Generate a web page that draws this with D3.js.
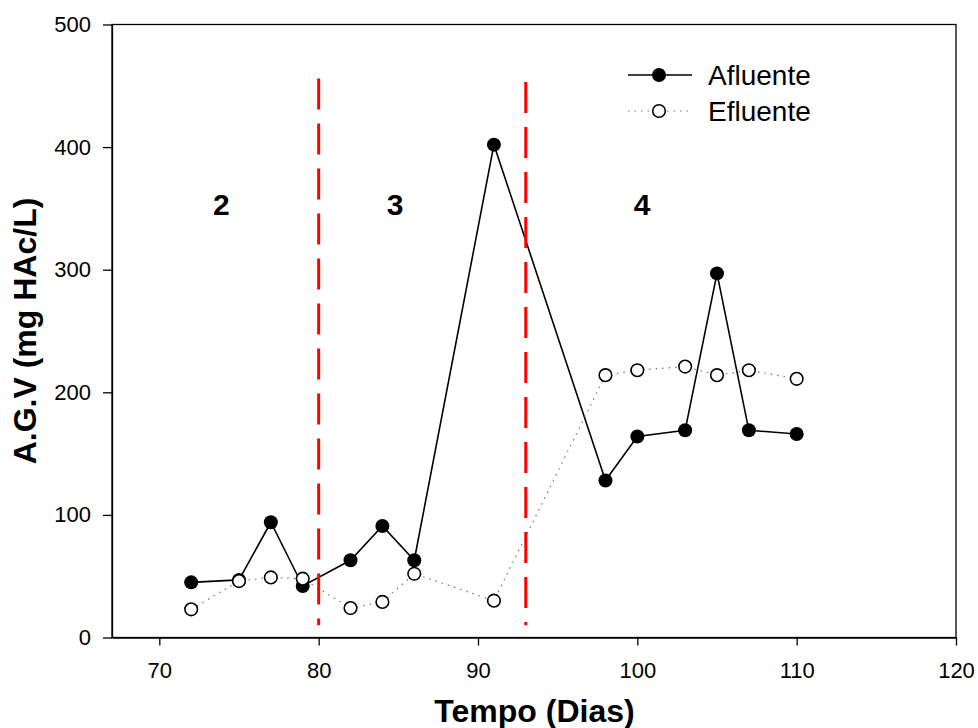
<!DOCTYPE html>
<html>
<head>
<meta charset="utf-8">
<script src="https://cdn.jsdelivr.net/npm/d3@7"></script>
<style>
  body { margin: 0; background: #fff; }
  svg text { font-family: "Liberation Sans", Arial, sans-serif; }
</style>
</head>
<body>
<div id="chart"></div>
<script>
// Dias de operação e ácidos graxos voláteis (mg HAc/L)
const dias = [72, 75, 77, 79, 82, 84, 86, 91, 98, 100, 103, 105, 107, 110];
const afluente = [45, 47, 94, 42, 63, 91, 63, 402, 128, 164, 169, 297, 169, 166];
const efluente = [23, 46, 49, 48, 24, 29, 52, 30, 214, 218, 221, 214, 218, 211];

// mudanças de fase (linhas tracejadas vermelhas)
const fases = [
    { dia: 80, de: 10, ate: 456 },
    { dia: 93, de: 10, ate: 453 }
];
const rotulosFase = [
    { texto: "2", dia: 73.9, valor: 345 },
    { texto: "3", dia: 84.8, valor: 345 },
    { texto: "4", dia: 100.3, valor: 345 }
];

const xTicks = [70, 80, 90, 100, 110, 120];
const yTicks = [0, 100, 200, 300, 400, 500];

const width = 978, height = 728;
const margin = { left: 112, right: 22, top: 24.5, bottom: 90.5 };

const svg = d3.select("#chart")
    .append("svg")
    .attr("width", width)
    .attr("height", height);

const x = d3.scaleLinear()
    .domain([67.03, 120])
    .range([margin.left, width - margin.right]);

const y = d3.scaleLinear()
    .domain([0, 500])
    .range([height - margin.bottom, margin.top]);

// moldura
svg.append("rect")
    .attr("x", x(67.03))
    .attr("y", y(500))
    .attr("width", x(120) - x(67.03))
    .attr("height", y(0) - y(500))
    .attr("fill", "none")
    .attr("stroke", "#000")
    .attr("stroke-width", 1.3);

const xAxis = svg.append("g")
    .attr("transform", `translate(0, ${y(0)})`)
    .call(d3.axisBottom(x).tickValues(xTicks).tickSize(8).tickSizeOuter(0).tickPadding(17));

const yAxis = svg.append("g")
    .attr("transform", `translate(${x(67.03)}, 0)`)
    .call(d3.axisLeft(y).tickValues(yTicks).tickSize(9).tickSizeOuter(0).tickPadding(12));

[xAxis, yAxis].forEach(ax => {
    ax.select(".domain").attr("stroke", "#000").attr("stroke-width", 1.3);
    ax.selectAll(".tick line").attr("stroke", "#000").attr("stroke-width", 1.3);
    ax.selectAll(".tick text")
        .attr("fill", "#000")
        .style("font-size", "22px")
        .style("font-family", "Liberation Sans, Arial, sans-serif");
});

// títulos dos eixos
svg.append("text")
    .attr("x", 534.5)
    .attr("y", 722)
    .attr("text-anchor", "middle")
    .style("font-size", "32px")
    .style("font-weight", "bold")
    .text("Tempo (Dias)");

svg.append("text")
    .attr("transform", `translate(36, ${(y(0) + y(500)) / 2}) rotate(-90)`)
    .attr("text-anchor", "middle")
    .style("font-size", "32px")
    .style("font-weight", "bold")
    .text("A.G.V (mg HAc/L)");

const dadosAf = dias.map((d, i) => [d, afluente[i]]);
const dadosEf = dias.map((d, i) => [d, efluente[i]]);

const linha = d3.line()
    .x(d => x(d[0]))
    .y(d => y(d[1]));

// Afluente: linha sólida, círculos cheios
svg.append("path")
    .datum(dadosAf)
    .attr("d", linha)
    .attr("fill", "none")
    .attr("stroke", "#000")
    .attr("stroke-width", 1.6);

svg.append("g")
    .selectAll("circle")
    .data(dadosAf)
    .join("circle")
    .attr("cx", d => x(d[0]))
    .attr("cy", d => y(d[1]))
    .attr("r", 7)
    .attr("fill", "#000");

// Efluente: linha pontilhada, círculos vazios
svg.append("path")
    .datum(dadosEf)
    .attr("d", linha)
    .attr("fill", "none")
    .attr("stroke", "#777")
    .attr("stroke-width", 1.2)
    .attr("stroke-dasharray", "1.5,5");

svg.append("g")
    .selectAll("circle")
    .data(dadosEf)
    .join("circle")
    .attr("cx", d => x(d[0]))
    .attr("cy", d => y(d[1]))
    .attr("r", 6.3)
    .attr("fill", "#fff")
    .attr("stroke", "#000")
    .attr("stroke-width", 1.6);

// linhas de fase
svg.append("g")
    .selectAll("line")
    .data(fases)
    .join("line")
    .attr("x1", d => x(d.dia))
    .attr("x2", d => x(d.dia))
    .attr("y1", d => y(d.ate))
    .attr("y2", d => y(d.de))
    .attr("stroke", "#ff0000")
    .attr("stroke-width", 3)
    .attr("stroke-dasharray", "31,14");

svg.append("g")
    .selectAll("text")
    .data(rotulosFase)
    .join("text")
    .attr("x", d => x(d.dia))
    .attr("y", d => y(d.valor))
    .attr("text-anchor", "middle")
    .style("font-size", "30px")
    .style("font-weight", "bold")
    .text(d => d.texto);

// legenda
const legenda = svg.append("g").attr("transform", "translate(628, 75)");
const itens = [
    { nome: "Afluente", cheio: true },
    { nome: "Efluente", cheio: false }
];
const item = legenda.selectAll("g")
    .data(itens)
    .join("g")
    .attr("transform", (d, i) => `translate(0, ${i * 36})`);

item.append("line")
    .attr("x1", 0)
    .attr("x2", 64)
    .attr("stroke", d => d.cheio ? "#000" : "#777")
    .attr("stroke-width", d => d.cheio ? 1.6 : 1.2)
    .attr("stroke-dasharray", d => d.cheio ? null : "1.5,5");

item.append("circle")
    .attr("cx", 31)
    .attr("r", d => d.cheio ? 7 : 6.3)
    .attr("fill", d => d.cheio ? "#000" : "#fff")
    .attr("stroke", "#000")
    .attr("stroke-width", d => d.cheio ? 0 : 1.6);

item.append("text")
    .attr("x", 80)
    .attr("y", 10)
    .style("font-size", "28px")
    .text(d => d.nome);
</script>
</body>
</html>
